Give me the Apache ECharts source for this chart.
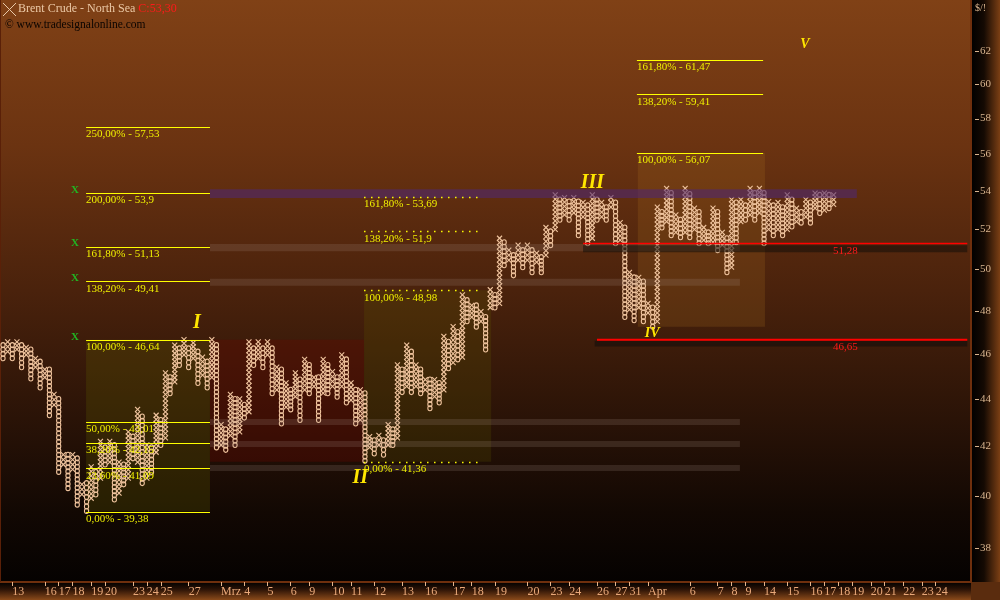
<!DOCTYPE html>
<html><head><meta charset="utf-8">
<script src="https://cdn.jsdelivr.net/npm/echarts@6/dist/echarts.min.js"></script>
<style>html,body{margin:0;padding:0;background:#000}#c{width:1000px;height:600px}</style>
</head><body><div id="c"></div>
<script>
// ---------- DATA ----------
// Point & Figure columns (alternating O / X), price range of each column
const colType = 'OXOXOXOXOX' + 'OXOXOXOXOX' + 'OXOXOXOXOX' + 'OXOXOXOXOX' + 'OXOXOXOXOX' + 'OXOXOXOXOX' +
                'OXOXOXOXOX' + 'OXOXOXOXOX' + 'OXOXOXOXOX' + 'OXOXOXOXOX' + 'OXOXOXOXOX' + 'OXOXOXOXOX' +
                'OXOXOXOXOX' + 'OXOXOXOXOX' + 'OXOXOXOXOX' + 'OXOXOXOXOX' + 'OXOXOXOXOX' + 'OXOXOXOXOX';
const colHigh = [
 46.4,46.55,46.4,46.55,46.4,46.3,46.2,45.8,45.65,45.3,
 45.3,44.2,44.0,41.65,41.65,41.65,41.5,40.45,40.5,41.15,
 40.95,42.2,41.95,42.2,42.05,41.35,41.25,42.6,42.4,43.55,
 43.25,42.05,41.95,43.3,43.1,45.15,44.95,46.4,46.25,46.65,
 46.25,46.5,46.1,45.85,45.65,46.65,46.4,42.9,42.7,44.2,
 44.0,44.0,43.75,46.55,46.25,46.55,46.25,46.55,46.25,45.4,
 45.3,44.7,44.4,45.15,44.85,45.75,45.5,44.95,44.95,45.75,
 45.5,45.2,44.95,45.95,45.75,44.7,44.4,44.4,44.25,42.4,
 42.25,42.45,42.25,42.9,42.7,45.5,45.3,46.4,46.1,45.5,
 45.3,44.85,44.85,44.85,44.7,46.8,46.55,47.25,47.0,48.75,
 48.5,48.25,48.25,47.95,47.7,49.0,48.75,51.55,51.35,50.95,
 50.7,51.2,50.95,51.2,50.95,50.8,50.6,52.1,51.9,53.8,
 53.55,53.65,53.45,53.65,53.45,53.4,53.25,53.8,53.55,53.4,
 53.15,53.65,53.4,52.35,52.1,49.85,49.6,49.6,49.4,48.35,
 48.15,53.15,52.9,54.15,53.9,52.75,52.5,54.15,53.85,53.1,
 52.9,52.1,51.85,53.1,52.9,51.85,51.55,53.55,53.4,53.55,
 53.25,54.15,53.9,54.15,53.9,53.45,53.25,53.4,53.15,53.8,
 53.55,53.1,52.9,53.55,53.4,53.9,53.8,53.9,53.8,53.8
];
const colLow = [
 45.8,46.1,45.8,46.2,45.4,45.95,44.9,45.4,44.5,44.95,
 43.3,43.75,40.95,41.25,40.3,41.05,39.65,40.05,39.4,39.9,
 40.05,40.7,41.25,41.35,39.85,40.1,40.45,40.7,41.5,41.35,
 40.5,40.7,40.95,41.75,42.05,42.35,44.25,44.75,45.5,45.95,
 45.4,45.8,44.7,45.05,44.5,44.95,41.95,42.05,41.85,42.45,
 42.05,42.6,43.2,43.45,45.5,45.8,45.4,45.95,44.25,44.4,
 42.95,43.65,43.55,44.1,43.1,44.4,44.25,44.55,43.1,44.25,
 44.25,44.55,44.1,44.55,43.85,43.95,42.95,43.1,41.4,41.95,
 41.7,42.05,41.65,42.05,42.05,42.35,44.3,44.55,44.3,44.55,
 44.25,44.4,43.6,44.1,43.85,44.4,45.35,45.6,45.75,45.85,
 47.5,47.7,47.25,47.5,46.2,48.15,48.15,48.35,50.2,50.45,
 49.7,50.45,50.1,50.45,49.85,50.35,49.85,50.7,51.2,52.0,
 52.5,52.75,52.5,52.85,51.7,52.65,51.3,51.55,52.5,52.65,
 52.5,53.15,51.3,51.45,47.7,48.05,47.55,48.15,47.5,47.9,
 47.25,47.5,52.1,52.4,51.7,51.85,51.6,51.85,51.6,52.0,
 51.3,51.45,51.3,51.35,50.95,51.2,49.85,50.1,51.35,52.4,
 52.5,52.75,52.5,52.85,51.3,52.0,51.7,52.0,51.7,52.0,
 52.15,52.4,52.35,52.65,52.35,53.1,52.85,53.0,53.1,53.3
];
// x-axis date ticks (column position) and labels
const dateTickCols = [2,9,12,15,19,22,28,31,34,40,47,52,57,62,66,71,75,80,86,91,97,101,106,113,118,122,128,132,135,139,148,154,157,160,164,169,174,177,180,183,187,190,194,198,201];
const dateTickLabels = ['13','16','17','18','19','20','23','24','25','27','Mrz','4','5','6','9','10','11','12','13','16','17','18','19','20','23','24','26','27','31','Apr','6','7','8','9','14','15','16','17','18','19','20','21','22','23','24'];
// price ticks
const priceTicks = [38,40,42,44,46,48,50,52,54,56,58,60,62];
// Fibonacci projections
const fibLeftLevels = [57.53,53.9,51.13,49.41,46.64,43.01,42.15,41.09,39.38];
const fibLeftPct = ['250,00%','200,00%','161,80%','138,20%','100,00%','50,00%','38,20%','23,60%','0,00%'];
const fibLeftSpan = [17.9,44.6];
const fibMidLevels = [53.69,51.9,48.98,41.36];
const fibMidPct = ['161,80%','138,20%','100,00%','0,00%'];
const fibMidSpan = [77.8,103.4];
const fibRightLevels = [61.47,59.41,56.07];
const fibRightPct = ['161,80%','138,20%','100,00%'];
const fibRightSpan = [136.6,163.8];
const greenMarkLevels = [53.9,51.13,49.41,46.64];
const greenMarkCol = 15.5;
// shaded zones [colStart, colEnd, priceLow, priceHigh]
const fibZones = [[17.9,44.6,39.38,46.64],[44.6,77.8,41.36,46.64],[77.8,105.2,41.36,48.98],[136.8,164.2,47.24,56.07]];
const bandZones = [[44.6,184,53.64,54.1],[44.6,158.8,50.9,51.26],[44.6,158.8,49.19,49.53],[44.6,158.8,42.89,43.14],[44.6,158.8,41.97,42.22],[44.6,158.8,40.99,41.23],[125,207.8,50.85,51.2],[127.5,207.8,46.33,46.6]];
// horizontal support lines
const supportLevels = [51.28,46.65];
const supportStart = [125,128];
const supportEnd = 207.8;
const supportLabelCol = 184.2;
// Elliott wave labels
const waveNames = ['I','II','III','IV','V'];
const waveCols = [41.8,77,127,139.9,172.8];
const wavePrices = [47.43,40.71,54.44,46.96,62.43];

// ---------- STYLE ----------
const FONT = '"Liberation Serif", "DejaVu Serif", serif';
const GLYPH = '#f0c49e';
const AXISCOL = '#d8b48e';
const BOX = 0.00424;
const X_MAX = 208.6;
const comma = v => String(v).replace('.', ',');

function renderPF(params, api){
  const i = api.value(0), lo = api.value(1), hi = api.value(2);
  const t = colType[params.dataIndex];
  const n = Math.max(1, Math.round(Math.log(hi/lo)/BOX) + 1);
  const pLo = api.coord([i, lo]), pHi = api.coord([i, hi]);
  const x = pLo[0];
  const ch = [];
  const h = 2.5;
  for (let k = 0; k < n; k++){
    const y = n === 1 ? pLo[1] : pLo[1] + (pHi[1]-pLo[1]) * k / (n-1);
    if (t === 'X'){
      ch.push({type:'line', shape:{x1:x-h,y1:y-h,x2:x+h,y2:y+h}, style:{stroke:GLYPH,lineWidth:1.1}});
      ch.push({type:'line', shape:{x1:x+h,y1:y-h,x2:x-h,y2:y+h}, style:{stroke:GLYPH,lineWidth:1.1}});
    } else {
      ch.push({type:'ellipse', shape:{cx:x,cy:y,rx:2.1,ry:2.5}, style:{fill:'none',stroke:GLYPH,lineWidth:1.1}});
    }
  }
  return {type:'group', children:ch};
}
function rectRender(colors){
  return function(params, api){
    const a = api.coord([api.value(0), api.value(3)]);
    const b = api.coord([api.value(1), api.value(2)]);
    return {type:'rect', shape:{x:a[0], y:a[1], width:b[0]-a[0], height:b[1]-a[1]}, style:{fill:colors[params.dataIndex]}};
  };
}
function fibSeries(levels, pcts, span, dashed){
  return {
    type:'custom', z:6, silent:true,
    data: levels.map((v,k)=>[span[0], span[1], v]),
    encode:{x:[0,1], y:2},
    renderItem:function(params, api){
      const a = api.coord([api.value(0), api.value(2)]);
      const b = api.coord([api.value(1), api.value(2)]);
      const txt = pcts[params.dataIndex] + ' - ' + comma(levels[params.dataIndex]);
      return {type:'group', children:[
        {type:'line', shape:{x1:a[0],y1:Math.round(a[1])+0.5,x2:b[0],y2:Math.round(a[1])+0.5}, style:{stroke:'#ffff00',lineWidth:dashed?1.5:1,lineDash:dashed?[1.5,5.5]:null}},
        {type:'text', x:a[0], y:a[1]+2, style:{text:txt, fill:'#f0f000', font:'11px '+FONT, align:'left', verticalAlign:'top'}}
      ]};
    }
  };
}

const chart = echarts.init(document.getElementById('c'), null, {renderer:'canvas'});
const plotGrad = new echarts.graphic.LinearGradient(0,0,0,1,[
  {offset:0,color:'#804116'},{offset:0.25,color:'#6b3311'},{offset:0.5,color:'#4a220c'},
  {offset:0.72,color:'#2a1307'},{offset:0.88,color:'#120803'},{offset:1,color:'#050201'}]);
const option = {
  animation:false,
  backgroundColor:'#000',
  grid:{left:0,right:29,top:0,bottom:18},
  xAxis:{
    type:'value', min:-0.65, max:X_MAX,
    axisLine:{show:false, onZero:false}, splitLine:{show:false},
    axisTick:{show:true, customValues:dateTickCols, length:4, lineStyle:{color:'#e6b38a'}},
    axisLabel:{customValues:dateTickCols, formatter:v=>dateTickLabels[dateTickCols.indexOf(v)],
      align:'left', margin:4, color:'#eaa97a', fontSize:12, fontFamily:FONT}
  },
  yAxis:{
    type:'log', position:'right', min:36.74, max:65.19,
    axisLine:{show:false, onZero:false}, splitLine:{show:false}, minorTick:{show:false},
    axisTick:{show:false},
    axisLabel:{customValues:priceTicks, margin:9, color:AXISCOL, fontSize:11, fontFamily:FONT}
  },
  graphic:[
    {type:'rect', z:-10, shape:{x:0,y:0,width:971,height:582}, style:{fill:plotGrad}},
    {type:'rect', z:-10, shape:{x:971,y:0,width:29,height:582}, style:{fill:new echarts.graphic.LinearGradient(0,0,1,0,[{offset:0,color:'#000'},{offset:0.45,color:'#150a03'},{offset:1,color:'#7b3f14'}])}},
    {type:'rect', z:-10, shape:{x:0,y:582,width:971,height:18}, style:{fill:new echarts.graphic.LinearGradient(0,0,0,1,[{offset:0,color:'#000'},{offset:0.4,color:'#2a1206'},{offset:1,color:'#8a4a1a'}])}},
    {type:'rect', z:-10, shape:{x:971,y:582,width:29,height:18}, style:{fill:'#5a2c0e'}},
    {type:'rect', z:-9, shape:{x:970,y:0,width:2,height:583}, style:{fill:'#6e2f0d'}},
    {type:'rect', z:-9, shape:{x:0,y:581,width:972,height:2}, style:{fill:'#6e2f0d'}},
    {type:'rect', z:-9, shape:{x:0,y:0,width:1,height:582}, style:{fill:'#5a2008'}},
    {type:'line', z:20, shape:{x1:3,y1:3,x2:16,y2:16}, style:{stroke:'#e8c8a8',lineWidth:1}},
    {type:'line', z:20, shape:{x1:16,y1:3,x2:3,y2:16}, style:{stroke:'#e8c8a8',lineWidth:1}},
    {type:'text', z:20, x:18, y:3, style:{text:'{a|Brent Crude - North Sea }{b|C:53,30}', font:'12px '+FONT,
      rich:{a:{fill:'#ecc9a6',font:'12px '+FONT}, b:{fill:'#ff1a1a',font:'12px '+FONT}}}},
    {type:'text', z:20, x:5, y:19, style:{text:'\u00a9 www.tradesignalonline.com', fill:'#0a0401', font:'11.5px '+FONT}},
    {type:'text', z:20, x:975, y:3, style:{text:'$/!', fill:AXISCOL, font:'10px '+FONT}}
  ],
  series:[
    {type:'custom', z:1, silent:true, data:fibZones, encode:{x:[0,1],y:[2,3]},
      renderItem:rectRender(['rgba(95,90,0,0.28)','rgba(110,8,0,0.30)','rgba(95,90,0,0.22)','rgba(170,110,30,0.22)'])},
    {type:'custom', z:2, silent:true, data:colHigh.map((h,i)=>[i, colLow[i], h]), encode:{x:0,y:[1,2]}, renderItem:renderPF},
    {type:'custom', z:3, silent:true, data:bandZones, encode:{x:[0,1],y:[2,3]},
      renderItem:rectRender(['rgba(80,40,110,0.6)','rgba(170,150,140,0.18)','rgba(170,150,140,0.18)','rgba(170,150,140,0.18)','rgba(170,150,140,0.18)','rgba(170,150,140,0.18)','rgba(20,14,10,0.55)','rgba(20,14,10,0.6)'])},
    fibSeries(fibLeftLevels, fibLeftPct, fibLeftSpan, false),
    fibSeries(fibMidLevels, fibMidPct, fibMidSpan, true),
    fibSeries(fibRightLevels, fibRightPct, fibRightSpan, false),
    {type:'custom', z:7, silent:true, data:greenMarkLevels.map(v=>[greenMarkCol, v]), encode:{x:0,y:1},
      renderItem:function(params, api){
        const p = api.coord([api.value(0), api.value(1)]);
        return {type:'text', x:p[0], y:p[1]-3, style:{text:'X', fill:'#22b422', font:'bold 11px '+FONT, align:'center', verticalAlign:'middle'}};
      }},
    {type:'custom', z:7, silent:true, data:supportLevels.map((v,k)=>[supportStart[k], supportEnd, v]), encode:{x:[0,1],y:2},
      renderItem:function(params, api){
        const a = api.coord([api.value(0), api.value(2)]);
        const b = api.coord([api.value(1), api.value(2)]);
        const lab = api.coord([supportLabelCol, api.value(2)]);
        const w = params.dataIndex === 0 ? 1.5 : 2;
        return {type:'group', children:[
          {type:'line', shape:{x1:a[0],y1:a[1],x2:b[0],y2:a[1]}, style:{stroke:'#ff0000',lineWidth:w}},
          {type:'text', x:lab[0], y:a[1]+2, style:{text:comma(supportLevels[params.dataIndex]), fill:'#ff1a1a', font:'11px '+FONT, align:'right', verticalAlign:'top'}}
        ]};
      }},
    {type:'custom', z:8, silent:true, data:waveCols.map((c,k)=>[c, wavePrices[k]]), encode:{x:0,y:1},
      renderItem:function(params, api){
        const p = api.coord([api.value(0), api.value(1)]);
        const big = params.dataIndex < 3;
        return {type:'text', x:p[0], y:p[1], style:{text:waveNames[params.dataIndex], fill:'#ffe600',
          font:'italic bold '+(big?20:14)+'px '+FONT, align:'center', verticalAlign:'middle'}};
      }},
    // price-axis tick marks
    {type:'custom', z:9, silent:true, clip:false, data:priceTicks.map(v=>[X_MAX, v]), encode:{x:0,y:1},
      renderItem:function(params, api){
        const p = api.coord([api.value(0), api.value(1)]);
        const y = Math.round(p[1]) + 0.5;
        return {type:'line', shape:{x1:p[0]+4,y1:y,x2:p[0]+8,y2:y}, style:{stroke:AXISCOL,lineWidth:1}};
      }}
  ]
};
chart.setOption(option);
</script></body></html>
